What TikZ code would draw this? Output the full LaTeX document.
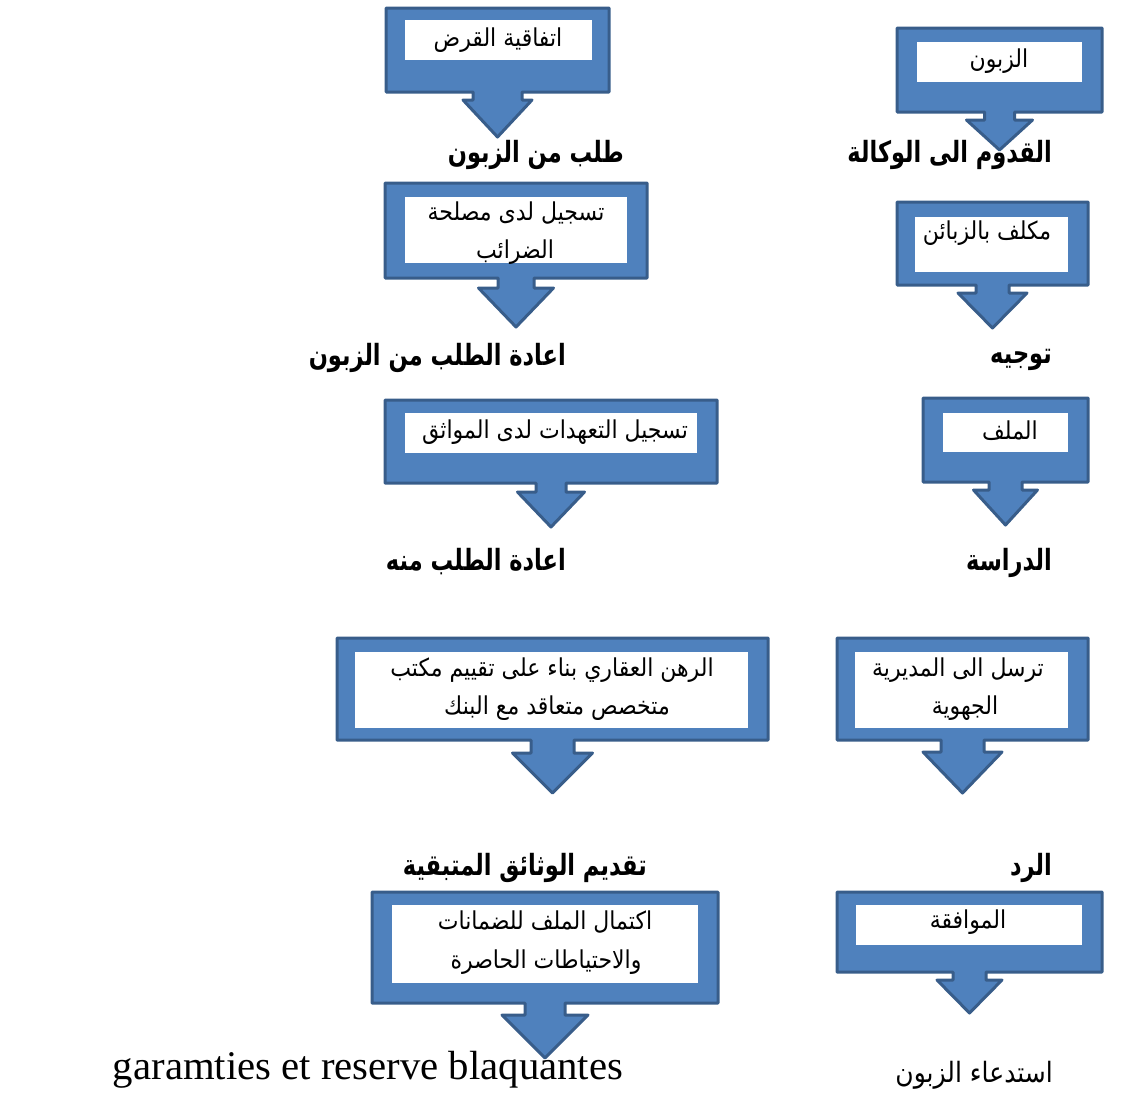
\documentclass[tikz,border=0pt]{standalone}
\usepackage{graphicx}
\usepackage{fontspec}
\TeXXeTstate=1
\newfontfamily\arfont[Script=Arabic]{DejaVu Sans}
\newfontfamily\latfont{Liberation Serif}
\newcommand\AR[1]{{\arfont\beginR #1\endR}}
\newcommand\ARb[1]{\scalebox{1}[1.12]{\AR{#1}}}
\newcommand\ARl[1]{\scalebox{1}[1.3]{\AR{#1}}}
\definecolor{cfill}{HTML}{4F81BD}
\definecolor{cline}{HTML}{385D8A}
\tikzset{
  callout/.style={fill=cfill, draw=cline, line width=3pt, line join=round},
  inner/.style={fill=white},
  boxtxt/.style={font=\fontsize{22}{26}\selectfont\arfont, inner sep=0pt},
  lbl/.style={font=\fontsize{22.5}{27}\selectfont\arfont\bfseries, inner sep=0pt, anchor=east},
  plain/.style={font=\fontsize{25}{29}\selectfont\arfont, inner sep=0pt, anchor=east},
  latin/.style={font=\fontsize{36}{40}\selectfont\latfont, inner sep=0pt}
}
% #1 x1, #2 y1, #3 x2, #4 y2, #5 cx, #6 stem half, #7 head half, #8 head top, #9 tip
\newcommand\dcall[9]{%
  \draw[callout] (#1,#2) -- (#3,#2) -- (#3,#4) -- ({#5+#6},#4) -- ({#5+#6},#8)
    -- ({#5+#7},#8) -- (#5,#9) -- ({#5-#7},#8) -- ({#5-#6},#8) -- ({#5-#6},#4)
    -- (#1,#4) -- cycle;}
\begin{document}
\begin{tikzpicture}[x=1pt,y=-1pt]
\useasboundingbox (0,0) rectangle (1143,1095);

% ---- right column ----
\dcall{897}{28}{1102}{112}{999.5}{15}{33}{120}{150}
\fill[inner] (917,42) rectangle (1082,82);
\node[boxtxt] (b1) at (999,61) {\ARb{الزبون}};
\node[lbl] (l1) at (1052,155) {\ARl{القدوم الى الوكالة}};

\dcall{897}{202}{1088}{285}{992.5}{16.5}{34.5}{293}{328}
\fill[inner] (915,217) rectangle (1068,272);
\node[boxtxt] (b2) at (987,233) {\ARb{مكلف بالزبائن}};
\node[lbl] (l2) at (1052,360) {\ARl{توجيه}};

\dcall{923}{398}{1088}{482}{1005.5}{16.5}{32}{490}{525}
\fill[inner] (943,413) rectangle (1068,452);
\node[boxtxt] (b3) at (1010,431) {\ARb{الملف}};
\node[lbl] (l3) at (1052,563) {\ARl{الدراسة}};

\dcall{837}{638}{1088}{740}{962.5}{21.5}{39.5}{752}{793}
\fill[inner] (855,652) rectangle (1068,728);
\node[boxtxt] (b4a) at (958,670) {\ARb{ترسل الى المديرية}};
\node[boxtxt] (b4b) at (965,708) {\ARb{الجهوية}};
\node[lbl] (l4) at (1052,868) {\ARl{الرد}};

\dcall{837}{892}{1102}{972}{969.5}{16.5}{32.5}{980}{1013}
\fill[inner] (856,905) rectangle (1082,945);
\node[boxtxt] (b5) at (968,922) {\ARb{الموافقة}};
\node[plain] (l5) at (1053,1075) {\ARb{استدعاء الزبون}};

% ---- left column ----
\dcall{386}{8}{609}{92}{497.5}{24.5}{34.5}{100}{137}
\fill[inner] (405,20) rectangle (592,60);
\node[boxtxt] (a1) at (498,40) {\ARb{اتفاقية القرض}};
\node[lbl] (k1) at (624,155) {\ARl{طلب من الزبون}};

\dcall{385}{183}{647}{278}{516}{18}{37.5}{288}{327}
\fill[inner] (405,197) rectangle (627,263);
\node[boxtxt] (a2a) at (516,213) {\ARb{تسجيل لدى مصلحة}};
\begin{scope}
  \clip (405,197) rectangle (627,263);
  \node[boxtxt] (a2b) at (515,252) {\ARb{الضرائب}};
\end{scope}
\node[lbl] (k2) at (566,358) {\ARl{اعادة الطلب من الزبون}};

\dcall{385}{400}{717}{483}{551}{15}{33.5}{492}{527}
\fill[inner] (405,413) rectangle (697,453);
\node[boxtxt] (a3) at (555,432) {\ARb{تسجيل التعهدات لدى المواثق}};
\node[lbl] (k3) at (566,562) {\ARl{اعادة الطلب منه}};

\dcall{337}{638}{768}{740}{552.5}{21.5}{40}{753}{793}
\fill[inner] (355,652) rectangle (748,728);
\node[boxtxt] (a4a) at (552,670) {\ARb{الرهن العقاري بناء على تقييم مكتب}};
\node[boxtxt] (a4b) at (557,708) {\ARb{متخصص متعاقد مع البنك}};
\node[lbl] (k4) at (647,868) {\ARl{تقديم الوثائق المتبقية}};

\node[latin] (lat) at (368,1070) {\resizebox{510pt}{!}{garamties et reserve blaquantes}};
\dcall{372}{892}{718}{1003}{545}{20}{43}{1015}{1058}
\fill[inner] (392,905) rectangle (698,983);
\node[boxtxt] (a5a) at (545,922) {\ARb{اكتمال الملف للضمانات}};
\node[boxtxt] (a5b) at (546,962) {\ARb{والاحتياطات الحاصرة}};
\end{tikzpicture}
\end{document}
